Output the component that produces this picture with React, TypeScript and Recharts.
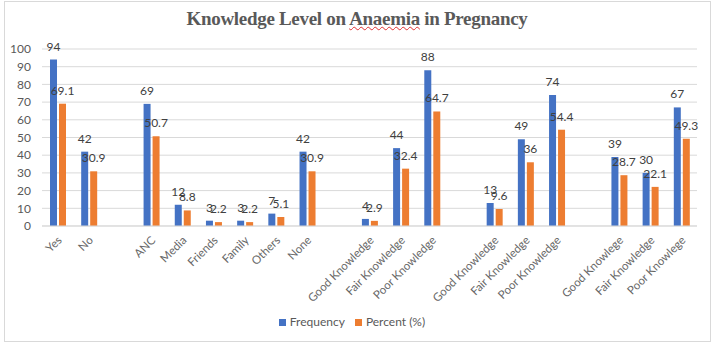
import React from 'react';
import { BarChart, Bar, XAxis, YAxis, CartesianGrid, Legend, LabelList } from 'recharts';

// empty strings are the gaps between the question groups
const categories = [
  'Yes', 'No', '',
  'ANC', 'Media', 'Friends', 'Family', 'Others', 'None', '',
  'Good Knowledge', 'Fair Knowledge', 'Poor Knowledge', '',
  'Good Knowledge', 'Fair Knowledge', 'Poor Knowledge', '',
  'Good Knowlege', 'Fair Knowledge', 'Poor Knowlege',
];
const frequency = [94, 42, null, 69, 12, 3, 3, 7, 42, null, 4, 44, 88, null, 13, 49, 74, null, 39, 30, 67];
const percent = [69.1, 30.9, null, 50.7, 8.8, 2.2, 2.2, 5.1, 30.9, null, 2.9, 32.4, 64.7, null, 9.6, 36, 54.4, null, 28.7, 22.1, 49.3];
const yTicks = [0, 10, 20, 30, 40, 50, 60, 70, 80, 90, 100];

const rows = categories.map((name, i) => ({
  name,
  frequency: frequency[i],
  percent: percent[i],
}));

const FONT = 'Lato, "Liberation Sans", sans-serif';
const GREY = '#595959';

const AngledTick = (props: any) => {
  const { x, y, payload } = props;
  const tx = x + 5;
  const ty = y + 7;
  return (
    <text
      x={tx}
      y={ty}
      transform={`rotate(-45 ${tx} ${ty})`}
      textAnchor="end"
      fill="#666"
      fontSize={11.5}
      fontFamily={FONT}
    >
      {payload.value}
    </text>
  );
};

export default function App() {
  return (
    <div style={{ position: 'absolute', left: 0, top: 0, width: 714, height: 344, background: '#fff' }}>
      <div
        style={{
          position: 'absolute',
          left: 4,
          top: 1,
          width: 705,
          height: 339,
          border: '1px solid #d9d9d9',
        }}
      />
      <div
        style={{
          position: 'absolute',
          left: 0,
          top: 8,
          width: 714,
          textAlign: 'center',
          fontFamily: '"Liberation Serif", "DejaVu Serif", serif',
          fontWeight: 'bold',
          fontSize: 19,
          color: GREY,
          letterSpacing: -0.3,
        }}
      >
        Knowledge Level on{' '}
        <span style={{ textDecoration: 'underline wavy #e03030', textDecorationThickness: 1 }}>Anaemia</span>
        {' '}in Pregnancy
      </div>
      <BarChart
        width={714}
        height={344}
        data={rows}
        margin={{ top: 49, right: 17, left: 0, bottom: 28 }}
        barSize={7}
        barGap={2}
      >
        <CartesianGrid vertical={false} stroke="#d9d9d9" />
        <XAxis
          dataKey="name"
          interval={0}
          height={90}
          axisLine={{ stroke: '#d9d9d9' }}
          tickLine={false}
          tick={<AngledTick />}
        />
        <YAxis
          domain={[0, 100]}
          ticks={yTicks}
          interval={0}
          width={42}
          axisLine={false}
          tickLine={false}
          tickSize={0}
          tickMargin={11}
          tick={{ fill: GREY, fontSize: 12, fontFamily: FONT }}
        />
        <Legend
          layout="horizontal"
          verticalAlign="middle"
          align="center"
          iconType="square"
          iconSize={7}
          wrapperStyle={{ top: 314, left: 0, width: 714, fontSize: 12, fontFamily: FONT }}
          formatter={(v: string) => <span style={{ color: GREY }}>{v}</span>}
        />
        <Bar dataKey="frequency" name="Frequency" fill="#4472C4" isAnimationActive={false}>
          <LabelList dataKey="frequency" position="top" offset={9} fill="#404040" fontSize={12} fontFamily={FONT} />
        </Bar>
        <Bar dataKey="percent" name="Percent (%)" fill="#ED7D31" isAnimationActive={false}>
          <LabelList dataKey="percent" position="top" offset={9} fill="#404040" fontSize={12} fontFamily={FONT} />
        </Bar>
      </BarChart>
    </div>
  );
}
